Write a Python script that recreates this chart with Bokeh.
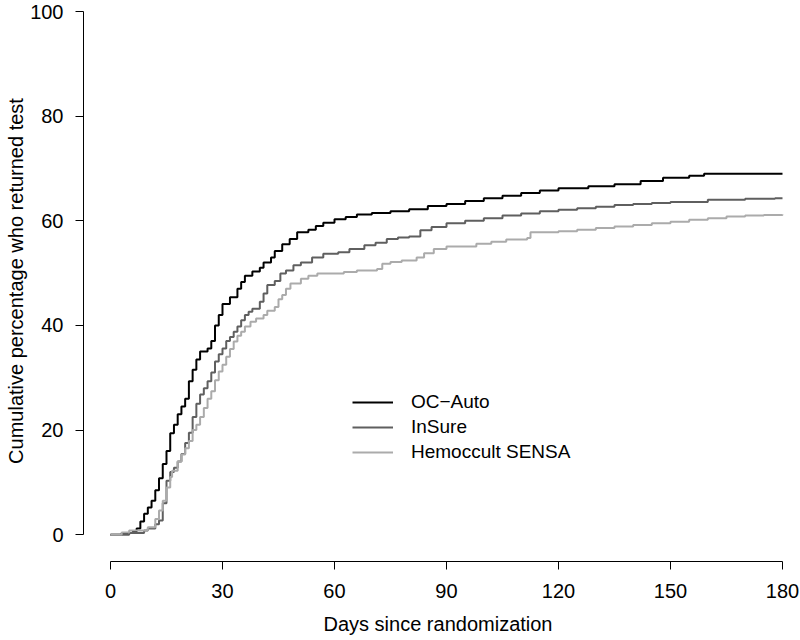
from bokeh.plotting import figure
from bokeh.models import Range1d, FixedTicker, Legend, LegendItem
from bokeh.embed import file_html
from bokeh.resources import INLINE

# ---- data ----
oc_days = [0, 3, 6, 7, 8, 9, 10, 11, 12, 13, 14, 15, 16, 17, 18, 19, 20, 21, 22, 23, 24, 26, 27, 28,
           29, 30, 32, 34, 35, 36, 38, 40, 41, 43, 44, 46, 48, 50, 53, 55, 57, 60, 63, 66, 70, 75, 80,
           85, 90, 95, 100, 105, 110, 115, 120, 128, 135, 142, 148, 155, 159, 180]
oc_pct = [0, 0.3, 0.6, 1.2, 2.5, 4.0, 5.2, 6.5, 8.5, 10.8, 13.5, 16.0, 19.4, 21.0, 23.0, 24.5, 26.0,
          29.3, 31.5, 33.5, 35.0, 35.6, 37.0, 40.0, 42.0, 44.1, 45.4, 47.0, 48.3, 49.5, 50.3, 51.0,
          52.0, 53.0, 54.2, 55.5, 56.5, 57.8, 58.3, 59.0, 59.6, 60.3, 60.7, 61.2, 61.5, 61.8, 62.2,
          62.8, 63.2, 63.8, 64.3, 64.8, 65.3, 65.8, 66.2, 66.6, 67.0, 67.6, 68.2, 68.6, 69.0, 69.0]

ins_days = [0, 5, 9, 10, 12, 13, 14, 15, 16, 17, 18, 19, 20, 21, 22, 23, 24, 25, 26, 27, 28, 29, 30,
            31, 32, 33, 34, 35, 36, 37, 38, 40, 41, 42, 44, 45.5, 47, 49, 51, 54, 57, 61, 64, 68, 71,
            74, 77, 80, 83, 86, 90, 95, 100, 105, 110, 115, 120, 125, 130, 135, 140, 145, 150, 160,
            170, 178, 180]
ins_pct = [0, 0.3, 0.8, 1.2, 2.0, 2.7, 6.0, 10.3, 12.0, 12.8, 14.0, 15.4, 17.5, 19.5, 22.5, 25.0,
           26.8, 28.0, 29.3, 31.0, 33.1, 34.5, 35.6, 37.0, 37.8, 38.8, 39.8, 41.0, 42.0, 42.6, 43.2,
           44.5, 46.1, 47.7, 48.5, 49.9, 50.5, 51.5, 52.0, 53.0, 53.7, 54.0, 54.6, 55.3, 55.8, 56.5,
           56.8, 57.0, 58.2, 58.8, 59.5, 60.0, 60.5, 61.0, 61.4, 61.8, 62.1, 62.4, 62.7, 63.0, 63.2,
           63.4, 63.6, 64.0, 64.2, 64.3, 64.3]

hs_days = [0, 3, 5, 10, 12, 13, 14, 15, 16, 16.5, 18, 19, 20, 21, 22, 23, 24, 25, 26, 27, 28, 29, 30,
           31, 32, 33, 34, 35, 36, 37.5, 39, 41, 42, 44, 45, 46, 47, 48.2, 51, 53, 55.4, 62.5, 66,
           71.4, 72.8, 75, 78, 82, 84, 86.6, 90, 98, 102, 106, 111.6, 112.5, 120, 125, 130, 135, 140,
           145, 150, 155, 160, 165, 170, 175, 180]
hs_pct = [0, 0.4, 0.8, 1.4, 3.0, 4.6, 6.5, 9.0, 11.0, 12.2, 14.0, 15.3, 16.5, 17.9, 20.0, 21.0, 22.5,
          24.2, 26.0, 27.4, 29.5, 31.2, 32.5, 34.0, 35.5, 36.9, 38.0, 38.8, 39.8, 40.7, 41.3, 42.0,
          42.8, 43.5, 45.0, 45.8, 47.0, 48.0, 48.9, 49.5, 49.9, 50.2, 50.5, 50.8, 51.8, 52.1, 52.4,
          53.0, 53.8, 54.6, 55.1, 55.6, 56.0, 56.4, 56.7, 57.8, 58.0, 58.3, 58.6, 58.9, 59.2, 59.5,
          59.8, 60.2, 60.5, 60.8, 61.0, 61.1, 61.2]

series_names = ["OC\u2212Auto", "InSure", "Hemoccult SENSA"]
series_colors = ["#000000", "#5f5f5f", "#ababab"]
x_ticks = [0, 30, 60, 90, 120, 150, 180]
y_ticks = [0, 20, 40, 60, 80, 100]

FONT = "Liberation Sans"

p = figure(width=800, height=640, output_backend="svg", toolbar_location=None,
           x_range=Range1d(-7.23, 182.68), y_range=Range1d(-5.13, 102.1),
           min_border_left=83, min_border_right=8, min_border_top=0, min_border_bottom=79,
           background_fill_color="white", border_fill_color="white")
p.outline_line_color = None
p.xgrid.visible = False
p.ygrid.visible = False

renderers = []
for xs, ys, c in zip([oc_days, ins_days, hs_days], [oc_pct, ins_pct, hs_pct], series_colors):
    r = p.step(xs, ys, mode="after", line_color=c, line_width=2)
    renderers.append(r)

for ax in (p.xaxis[0], p.yaxis[0]):
    ax.axis_line_color = "black"
    ax.axis_line_width = 1
    ax.major_tick_line_color = "black"
    ax.major_tick_in = 0
    ax.major_tick_out = 8
    ax.minor_tick_line_color = None
    ax.major_label_text_font = FONT
    ax.major_label_text_font_size = "20px"
    ax.major_label_text_color = "black"
    ax.axis_label_text_font = FONT
    ax.axis_label_text_font_size = "20px"
    ax.axis_label_text_font_style = "normal"
    ax.axis_label_text_color = "black"

p.xaxis[0].ticker = FixedTicker(ticks=x_ticks)
p.yaxis[0].ticker = FixedTicker(ticks=y_ticks)
p.xaxis[0].bounds = (0, 180)
p.yaxis[0].bounds = (0, 100)
p.xaxis[0].axis_label = "Days since randomization"
p.yaxis[0].axis_label = "Cumulative percentage who returned test"
p.xaxis[0].major_label_standoff = 14
p.xaxis[0].axis_label_standoff = 12
p.yaxis[0].major_label_standoff = 12
p.yaxis[0].axis_label_standoff = 0
p.yaxis[0].major_label_orientation = "horizontal"

legend = Legend(items=[LegendItem(label=n, renderers=[r]) for n, r in zip(series_names, renderers)],
                location=(269, 97), orientation="vertical",
                border_line_color=None, background_fill_alpha=0,
                padding=0, margin=0, spacing=1,
                glyph_width=41, glyph_height=24, label_height=24, label_standoff=18,
                label_text_font=FONT, label_text_font_size="19px", label_text_color="black")
p.add_layout(legend, "center")

open("out.html", "w").write(file_html(p, INLINE))
